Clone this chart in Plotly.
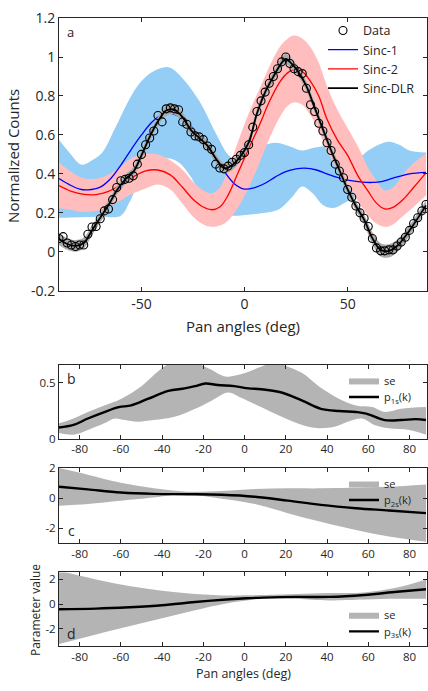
import plotly.graph_objects as go

W, H = 428, 691
FONT = "Open Sans"
AXC = "#262626"

# ---------------- panel a: normalized counts vs pan angle ----------------
data_x = list(range(-90, 89, 2))
data_y = [0.068, 0.078, 0.045, 0.035, 0.027, 0.035, 0.035, 0.09, 0.127, 0.13,
          0.17, 0.21, 0.22, 0.268, 0.33, 0.365, 0.372, 0.378, 0.39, 0.45,
          0.5, 0.55, 0.584, 0.62, 0.70, 0.667, 0.734, 0.739, 0.734, 0.729,
          0.667, 0.655, 0.615, 0.595, 0.59, 0.576, 0.543, 0.526, 0.45, 0.43,
          0.426, 0.44, 0.46, 0.475, 0.495, 0.51, 0.55, 0.64, 0.72, 0.775,
          0.82, 0.865, 0.9, 0.94, 0.975, 1.0, 0.967, 0.94, 0.925, 0.915,
          0.84, 0.755, 0.72, 0.66, 0.62, 0.56, 0.52, 0.45, 0.415, 0.38,
          0.32, 0.28, 0.235, 0.2, 0.172, 0.13, 0.068, 0.02, 0.005, 0.005,
          0.01, 0.01, 0.03, 0.05, 0.075, 0.11, 0.145, 0.175, 0.21, 0.243]

dlr_x = [-90, -86, -82, -78, -74, -70, -66, -62, -58, -54, -50, -46, -42, -38,
         -34, -30, -26, -22, -18, -14, -10, -6, -2, 2, 6, 10, 14, 18, 20, 22,
         26, 30, 34, 38, 42, 46, 50, 54, 58, 62, 66, 70, 74, 78, 82, 86, 88]
dlr_y = [0.065, 0.04, 0.03, 0.045, 0.11, 0.175, 0.24, 0.315, 0.37, 0.41,
         0.495, 0.59, 0.67, 0.725, 0.73, 0.69, 0.625, 0.585, 0.545, 0.48,
         0.43, 0.445, 0.49, 0.56, 0.71, 0.82, 0.9, 0.97, 0.99, 0.975,
         0.925, 0.85, 0.74, 0.63, 0.52, 0.42, 0.32, 0.235, 0.165, 0.07,
         0.01, 0.005, 0.03, 0.08, 0.14, 0.205, 0.238]
dlr_se = [0.03, 0.03, 0.03, 0.028, 0.025, 0.024, 0.024, 0.024, 0.024, 0.024,
          0.024, 0.024, 0.024, 0.026, 0.026, 0.024, 0.024, 0.024, 0.024, 0.024,
          0.026, 0.026, 0.024, 0.024, 0.024, 0.024, 0.024, 0.026, 0.026, 0.026,
          0.024, 0.024, 0.024, 0.024, 0.024, 0.024, 0.024, 0.024, 0.026, 0.03,
          0.034, 0.034, 0.032, 0.028, 0.026, 0.026, 0.026]

sinc1_x = [-90, -85, -80, -76, -70, -65, -60, -55, -50, -45, -40, -37, -34, -30,
           -25, -20, -15, -10, -5, 0, 5, 10, 15, 20, 25, 29, 35, 40, 45, 50,
           57, 62, 67, 72, 80, 88]
sinc1_y = [0.376, 0.345, 0.322, 0.318, 0.332, 0.375, 0.445, 0.525, 0.6, 0.665,
           0.705, 0.712, 0.705, 0.68, 0.635, 0.565, 0.495, 0.415, 0.35, 0.322,
           0.33, 0.352, 0.385, 0.412, 0.426, 0.43, 0.42, 0.4, 0.382, 0.368,
           0.358, 0.356, 0.362, 0.378, 0.4, 0.408]
sinc1_up_x = [-90, -85, -79, -74, -69, -63, -57, -52, -46, -40, -36, -30, -22,
              -14, -8, -3, 2, 8, 15, 21, 28, 34, 40, 46, 50, 55, 60, 65, 70,
              75, 80, 88]
sinc1_up = [0.575, 0.51, 0.447, 0.47, 0.51, 0.63, 0.76, 0.85, 0.915, 0.945,
            0.945, 0.89, 0.775, 0.61, 0.5, 0.465, 0.49, 0.54, 0.56, 0.545,
            0.52, 0.535, 0.54, 0.5, 0.475, 0.48, 0.52, 0.55, 0.565, 0.55,
            0.52, 0.51]
sinc1_lo_x = [-90, -80, -70, -60, -56, -52, -47, -42, -37, -32, -27, -22, -17,
              -12, -5, 2, 10, 17, 23, 28, 33, 38, 43, 50, 58, 66, 75, 88]
sinc1_lo = [0.175, 0.178, 0.18, 0.185, 0.25, 0.34, 0.43, 0.47, 0.48, 0.46,
            0.4, 0.31, 0.22, 0.19, 0.185, 0.19, 0.2, 0.22, 0.28, 0.335,
            0.3, 0.24, 0.225, 0.26, 0.3, 0.31, 0.32, 0.32]

sinc2_x = [-90, -84, -78, -72, -66, -60, -54, -48, -42, -36, -30, -25, -20, -16,
           -12, -8, -3, 2, 7, 12, 17, 21, 24, 28, 32, 36, 40, 45, 50, 55, 60,
           64, 68, 72, 77, 82, 88]
sinc2_y = [0.34, 0.31, 0.295, 0.294, 0.31, 0.345, 0.385, 0.415, 0.42, 0.395,
           0.33, 0.27, 0.23, 0.216, 0.23, 0.29, 0.41, 0.53, 0.645, 0.77,
           0.87, 0.92, 0.935, 0.925, 0.875, 0.8, 0.68, 0.575, 0.495, 0.39,
           0.31, 0.25, 0.22, 0.228, 0.27, 0.33, 0.405]
sinc2_up = [0.46, 0.41, 0.378, 0.375, 0.395, 0.44, 0.485, 0.503, 0.5, 0.47,
            0.42, 0.36, 0.315, 0.3, 0.33, 0.42, 0.57, 0.71, 0.83, 0.95,
            1.05, 1.095, 1.11, 1.095, 1.05, 0.97, 0.85, 0.73, 0.635, 0.54,
            0.43, 0.365, 0.315, 0.33, 0.4, 0.455, 0.505]
sinc2_lo = [0.225, 0.215, 0.205, 0.21, 0.23, 0.265, 0.3, 0.325, 0.345, 0.32,
            0.245, 0.18, 0.14, 0.128, 0.135, 0.16, 0.23, 0.33, 0.45, 0.58,
            0.69, 0.75, 0.767, 0.755, 0.7, 0.62, 0.52, 0.42, 0.345, 0.26,
            0.185, 0.145, 0.128, 0.14, 0.185, 0.23, 0.29]

# ---------------- panel b: p1s(k) ----------------
p1_x = [-90, -83, -76, -68, -61, -55, -47, -37, -29, -24, -19, -13, -5, 2, 8,
        18, 28, 37, 46, 54, 59, 68, 76, 83, 88]
p1_y = [0.099, 0.122, 0.18, 0.238, 0.282, 0.297, 0.355, 0.427, 0.45, 0.47,
        0.494, 0.48, 0.47, 0.45, 0.442, 0.413, 0.34, 0.267, 0.247, 0.238,
        0.224, 0.166, 0.166, 0.174, 0.166]
p1_up_x = [-90, -83, -76, -68, -60, -50, -41, -34, -27, -21, -16, -10, -5, 2, 8,
           15, 21, 28, 36, 46, 54, 62, 68, 76, 88]
p1_up = [0.137, 0.18, 0.238, 0.297, 0.355, 0.47, 0.616, 0.7, 0.72, 0.66,
         0.616, 0.558, 0.564, 0.6, 0.645, 0.68, 0.645, 0.587, 0.47, 0.355,
         0.297, 0.282, 0.238, 0.267, 0.282]
p1_lo_x = [-90, -83, -76, -68, -63, -58, -52, -44, -34, -24, -16, -8, -2, 8, 18,
           28, 36, 44, 50, 57, 63, 70, 80, 88]
p1_lo = [0.049, 0.035, 0.078, 0.137, 0.18, 0.166, 0.151, 0.166, 0.195, 0.267,
         0.34, 0.413, 0.369, 0.282, 0.195, 0.122, 0.093, 0.108, 0.151, 0.18,
         0.122, 0.093, 0.078, 0.035]

# ---------------- panel c: p2s(k) ----------------
p2_x = [-90, -76, -60, -44, -28, -11, 5, 21, 37, 54, 70, 88]
p2_y = [0.76, 0.58, 0.37, 0.28, 0.26, 0.22, 0.09, -0.17, -0.45, -0.67, -0.82, -1.0]
p2_up = [2.0, 1.56, 1.02, 0.65, 0.43, 0.48, 0.6, 0.65, 0.65, 0.69, 0.76, 0.91]
p2_lo_x = [-90, -76, -60, -44, -36, -24, -11, 5, 21, 37, 54, 70, 88]
p2_lo = [-0.5, -0.39, -0.17, 0.04, 0.17, 0.19, -0.04, -0.39, -1.0, -1.58,
         -2.12, -2.55, -2.9]

# ---------------- panel d: p3s(k) ----------------
p3_x = [-90, -72, -56, -40, -24, -7, 1, 9, 25, 41, 58, 74, 88]
p3_y = [-0.42, -0.37, -0.26, -0.1, 0.16, 0.39, 0.47, 0.52, 0.575, 0.575, 0.73,
        0.99, 1.2]
p3_up = [2.7, 1.99, 1.46, 1.07, 0.81, 0.68, 0.7, 0.73, 0.81, 0.89, 0.94, 1.33,
         1.99]
p3_lo_x = [-90, -72, -56, -40, -24, -7, 1, 9, 25, 33, 41, 58, 74, 88]
p3_lo = [-3.24, -2.46, -1.8, -1.15, -0.5, 0.1, 0.29, 0.42, 0.42, 0.34, 0.29,
         0.37, 0.42, 0.42]

# tick labels
a_yticks = [-0.2, 0, 0.2, 0.4, 0.6, 0.8, 1, 1.2]
a_yticktext = ["-0.2", "0", "0.2", "0.4", "0.6", "0.8", "1", "1.2"]
a_xticks = [-50, 0, 50]
a_xticktext = ["-50", "0", "50"]
k_xticks = [-80, -60, -40, -20, 0, 20, 40, 60, 80]
k_xticktext = ["-80", "-60", "-40", "-20", "0", "20", "40", "60", "80"]
b_yticks = [0, 0.5]
b_yticktext = ["0", "0.5"]
cd_yticks = [-2, 0, 2]
cd_yticktext = ["-2", "0", "2"]

BLUE_FILL = "rgb(148,206,246)"
PINK_FILL = "rgb(255,189,189)"
GRAY_FILL = "rgb(180,180,180)"

fig = go.Figure()


def band(xu, yu, xl, yl, color, xa, ya, name=None, legend=None):
    fig.add_trace(go.Scatter(x=xu, y=yu, mode="lines", line=dict(width=0, shape="spline"),
                             hoverinfo="skip", showlegend=False, xaxis=xa, yaxis=ya))
    fig.add_trace(go.Scatter(x=xl, y=yl, mode="lines", line=dict(width=0, shape="spline"),
                             fill="tonexty", fillcolor=color, hoverinfo="skip",
                             name=name, showlegend=name is not None,
                             legend=legend, xaxis=xa, yaxis=ya))


# panel a
band(sinc1_up_x, sinc1_up, sinc1_lo_x, sinc1_lo, BLUE_FILL, "x", "y")
band(sinc2_x, sinc2_up, sinc2_x, sinc2_lo, PINK_FILL, "x", "y")
fig.add_trace(go.Scatter(x=sinc1_x, y=sinc1_y, mode="lines", name="Sinc-1",
                         line=dict(color="#0000ff", width=1.3, shape="spline"),
                         legend="legend", legendrank=2, xaxis="x", yaxis="y"))
fig.add_trace(go.Scatter(x=sinc2_x, y=sinc2_y, mode="lines", name="Sinc-2",
                         line=dict(color="#ff0000", width=1.3, shape="spline"),
                         legend="legend", legendrank=3, xaxis="x", yaxis="y"))
dlr_hi = [v + e for v, e in zip(dlr_y, dlr_se)]
dlr_lo = [v - e for v, e in zip(dlr_y, dlr_se)]
band(dlr_x, dlr_hi, dlr_x, dlr_lo, "rgb(170,170,170)", "x", "y")
fig.add_trace(go.Scatter(x=dlr_x, y=dlr_y, mode="lines", name="Sinc-DLR",
                         line=dict(color="black", width=1.8, shape="spline"),
                         legend="legend", legendrank=4, xaxis="x", yaxis="y"))
fig.add_trace(go.Scatter(x=data_x, y=data_y, mode="markers", name="Data",
                         marker=dict(symbol="circle-open", size=8, color="black",
                                     line=dict(width=1.1, color="black")),
                         legend="legend", legendrank=1, xaxis="x", yaxis="y"))

# panels b, c, d: each entry gets its own legend box so the two rows sit tight
for (xa, ya, lg_se, lg_p, lx, ly, ux, uy, lox, loy, sub) in [
        ("x2", "y2", "legend2", "legend5", p1_x, p1_y, p1_up_x, p1_up, p1_lo_x, p1_lo, "1s"),
        ("x3", "y3", "legend3", "legend6", p2_x, p2_y, p2_x, p2_up, p2_lo_x, p2_lo, "2s"),
        ("x4", "y4", "legend4", "legend7", p3_x, p3_y, p3_x, p3_up, p3_lo_x, p3_lo, "3s")]:
    band(ux, uy, lox, loy, GRAY_FILL, xa, ya, name="se", legend=lg_se)
    fig.add_trace(go.Scatter(x=lx, y=ly, mode="lines", name=f"p<sub>{sub}</sub>(k)",
                             line=dict(color="black", width=2.4, shape="spline"),
                             legend=lg_p, xaxis=xa, yaxis=ya))

L, R = 59, 1


def py(px):
    return 1 - px / H


def px_x(px):
    return (px - L) / (W - L - R)


XR = [-90, 88.5]


def ax(size, **kw):
    d = dict(showline=True, linecolor=AXC, linewidth=1, mirror="ticks",
             ticks="inside", tickcolor=AXC, ticklen=4, showgrid=False,
             zeroline=False, tickfont=dict(family=FONT, size=size, color=AXC))
    d.update(kw)
    return d


def leg(x, y, size):
    return dict(x=x, y=y, xanchor="left", yanchor="top", traceorder="normal",
                bgcolor="rgba(0,0,0,0)", font=dict(family=FONT, size=size, color=AXC),
                tracegroupgap=0)


LX = px_x(344)
fig.update_layout(
    width=W, height=H, margin=dict(l=L, r=R, t=0, b=0),
    paper_bgcolor="white", plot_bgcolor="white",
    font=dict(family=FONT, color=AXC),
    xaxis=ax(14, domain=[0, 1], range=XR, anchor="y", tickvals=a_xticks,
             ticktext=a_xticktext),
    yaxis=ax(14, domain=[py(288.7), py(8.3)], range=[-0.2, 1.2], anchor="x",
             tickvals=a_yticks, ticktext=a_yticktext),
    xaxis2=ax(11.5, domain=[0, 1], range=XR, anchor="y2", tickvals=k_xticks,
              ticktext=k_xticktext),
    yaxis2=ax(11.5, domain=[py(440.7), py(365)], range=[0, 0.66], anchor="x2",
              tickvals=b_yticks, ticktext=b_yticktext),
    xaxis3=ax(11.5, domain=[0, 1], range=XR, anchor="y3", tickvals=k_xticks,
              ticktext=k_xticktext),
    yaxis3=ax(11.5, domain=[py(548.3), py(471)], range=[-3, 2], anchor="x3",
              tickvals=cd_yticks, ticktext=cd_yticktext),
    xaxis4=ax(11.5, domain=[0, 1], range=XR, anchor="y4", tickvals=k_xticks,
              ticktext=k_xticktext),
    yaxis4=ax(11.5, domain=[py(654), py(578.3)], range=[-3.4, 2.56], anchor="x4",
              tickvals=cd_yticks, ticktext=cd_yticktext),
    legend=leg(px_x(323), py(6), 12.5),
    legend2=leg(LX, py(366), 11),
    legend5=leg(LX, py(383), 11),
    legend3=leg(LX, py(472), 11),
    legend6=leg(LX, py(489), 11),
    legend4=leg(LX, py(607), 11),
    legend7=leg(LX, py(624), 11),
    showlegend=True,
)

ann = [
    dict(text="a", x=px_x(70), y=py(23), size=13),
    dict(text="b", x=px_x(71), y=py(379), size=14),
    dict(text="c", x=px_x(71), y=py(535), size=14),
    dict(text="d", x=px_x(71), y=py(641), size=14),
    dict(text="Pan angles (deg)", x=px_x(243), y=py(325), size=15),
    dict(text="Pan angles (deg)", x=px_x(243), y=py(682), size=12.5),
]
for a in ann:
    fig.add_annotation(text=a["text"], x=a["x"], y=a["y"], xref="paper", yref="paper",
                       showarrow=False, xanchor="center", yanchor="middle",
                       font=dict(family=FONT, size=a["size"], color=AXC))
fig.add_annotation(text="Normalized Counts", x=px_x(13), y=py(150), xref="paper",
                   yref="paper", showarrow=False, textangle=-90, xanchor="center",
                   yanchor="middle", font=dict(family=FONT, size=15, color=AXC))
fig.add_annotation(text="Parameter value", x=px_x(35), y=py(617), xref="paper",
                   yref="paper", showarrow=False, textangle=-90, xanchor="center",
                   yanchor="middle", font=dict(family=FONT, size=12, color=AXC))

fig.write_html("out.html")
